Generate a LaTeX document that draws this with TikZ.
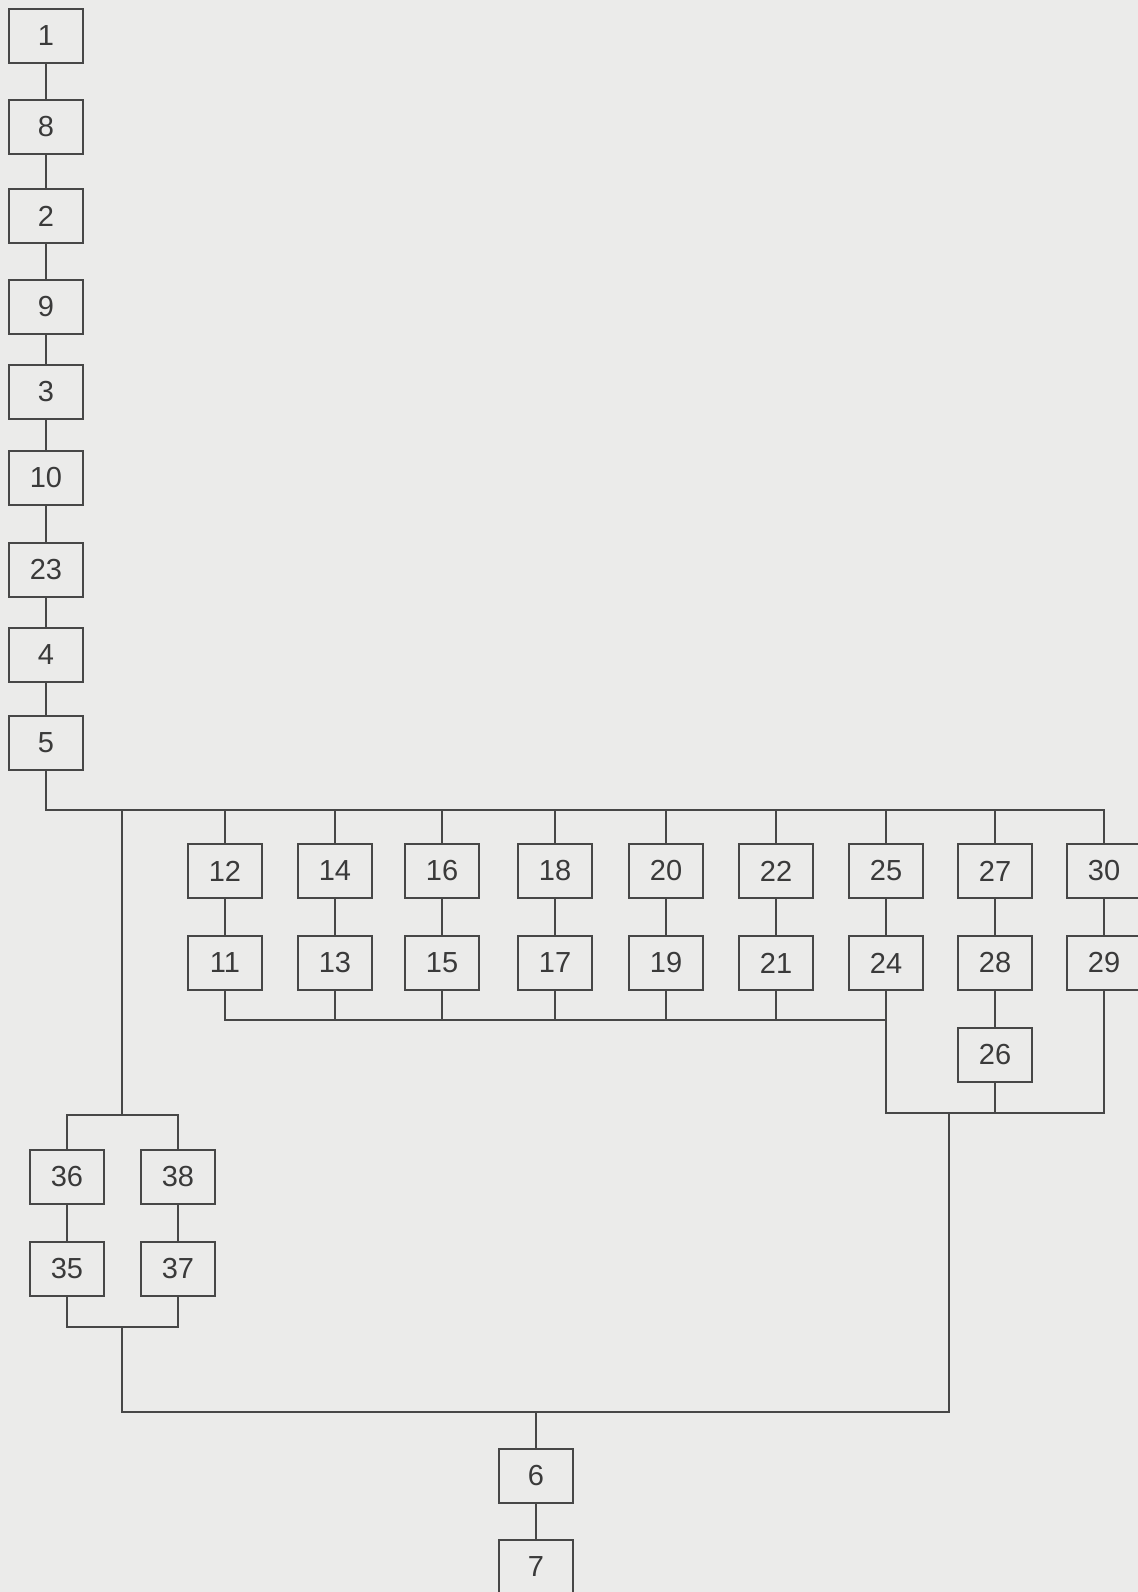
\documentclass[tikz,border=0pt]{standalone}
\usepackage{fontspec}
\setmainfont{Liberation Sans}
\usepackage{tikz}
\usetikzlibrary{calc}
\definecolor{paper}{HTML}{EBEBEA}
\definecolor{inkgrey}{HTML}{474747}
\definecolor{textgrey}{HTML}{3A3A3A}
\tikzset{
  blk/.style={draw=inkgrey, line width=1.3pt, minimum width=1.48cm, minimum height=1.08cm,
              inner sep=0pt, font=\fontsize{16.5}{18}\selectfont, text=textgrey},
  wire/.style={draw=inkgrey, line width=1.3pt}
}

\begin{document}
\begin{tikzpicture}[x=0.02cm, y=-0.02cm]
    % Paper
    \fill[paper] (0,0) rectangle (1138,1592);
    \useasboundingbox (0,0) rectangle (1138,1592);
    % Main chain
    \node[blk] (b1)  at (46,36)  {1};
    \node[blk] (b8)  at (46,127) {8};
    \node[blk] (b2)  at (46,216) {2};
    \node[blk] (b9)  at (46,307) {9};
    \node[blk] (b3)  at (46,392) {3};
    \node[blk] (b10) at (46,478) {10};
    \node[blk] (b23) at (46,570) {23};
    \node[blk] (b4)  at (46,655) {4};
    \node[blk] (b5)  at (46,743) {5};
    \draw[wire] (b1) -- (b8) -- (b2) -- (b9) -- (b3) -- (b10) -- (b23) -- (b4) -- (b5);
    % Parallel rows
    \node[blk] (b12) at (225,871) {12};
    \node[blk] (b11) at (225,963) {11};
    \node[blk] (b14) at (335,871) {14};
    \node[blk] (b13) at (335,963) {13};
    \node[blk] (b16) at (442,871) {16};
    \node[blk] (b15) at (442,963) {15};
    \node[blk] (b18) at (555,871) {18};
    \node[blk] (b17) at (555,963) {17};
    \node[blk] (b20) at (666,871) {20};
    \node[blk] (b19) at (666,963) {19};
    \node[blk] (b22) at (776,871) {22};
    \node[blk] (b21) at (776,963) {21};
    \node[blk] (b25) at (886,871) {25};
    \node[blk] (b24) at (886,963) {24};
    \node[blk] (b27) at (995,871) {27};
    \node[blk] (b28) at (995,963) {28};
    \node[blk] (b26) at (995,1055) {26};
    \node[blk] (b30) at (1104,871) {30};
    \node[blk] (b29) at (1104,963) {29};
    \draw[wire] (b12) -- (b11);
    \draw[wire] (b14) -- (b13);
    \draw[wire] (b16) -- (b15);
    \draw[wire] (b18) -- (b17);
    \draw[wire] (b20) -- (b19);
    \draw[wire] (b22) -- (b21);
    \draw[wire] (b25) -- (b24);
    \draw[wire] (b27) -- (b28) -- (b26);
    \draw[wire] (b30) -- (b29);
    % Left branch
    \node[blk] (b36) at (67,1177) {36};
    \node[blk] (b35) at (67,1269) {35};
    \node[blk] (b38) at (178,1177) {38};
    \node[blk] (b37) at (178,1269) {37};
    \draw[wire] (b36) -- (b35);
    \draw[wire] (b38) -- (b37);
    % Output
    \node[blk] (b6) at (536,1476) {6};
    \node[blk] (b7) at (536,1567) {7};
    \draw[wire] (b6) -- (b7);
    % Junctions
    \coordinate (busT)  at (1104,810);
    \coordinate (forkL) at (122,810);
    \coordinate (busM)  at (886,1020);
    \coordinate (joinR) at (949,1113);
    \coordinate (busB)  at (949,1412);
    \coordinate (forkA) at (122,1115);
    \coordinate (joinA) at (122,1327);
    % Top bus and drops
    \draw[wire] (b5.south) |- (busT) -- (b30.north);
    \draw[wire] (b12.north) -- (b12.north |- busT)
                (b14.north) -- (b14.north |- busT)
                (b16.north) -- (b16.north |- busT)
                (b18.north) -- (b18.north |- busT)
                (b20.north) -- (b20.north |- busT)
                (b22.north) -- (b22.north |- busT)
                (b25.north) -- (b25.north |- busT)
                (b27.north) -- (b27.north |- busT);
    % Lower bus of rows
    \draw[wire] (b11.south) |- (busM);
    \draw[wire] (b13.south) -- (b13.south |- busM)
                (b15.south) -- (b15.south |- busM)
                (b17.south) -- (b17.south |- busM)
                (b19.south) -- (b19.south |- busM)
                (b21.south) -- (b21.south |- busM);
    \draw[wire] (b24.south) |- (b29.south |- joinR) -- (b29.south);
    \draw[wire] (b26.south) -- (b26.south |- joinR);
    % Left fork
    \draw[wire] (forkL) -- (forkA);
    \draw[wire] (b36.north) |- (forkA) -| (b38.north);
    \draw[wire] (b35.south) |- (joinA) -| (b37.south);
    % Bottom bus
    \draw[wire] (joinA) |- (busB) -- (joinR);
    \draw[wire] (b6.north) -- (b6.north |- busB);
\end{tikzpicture}
\end{document}
